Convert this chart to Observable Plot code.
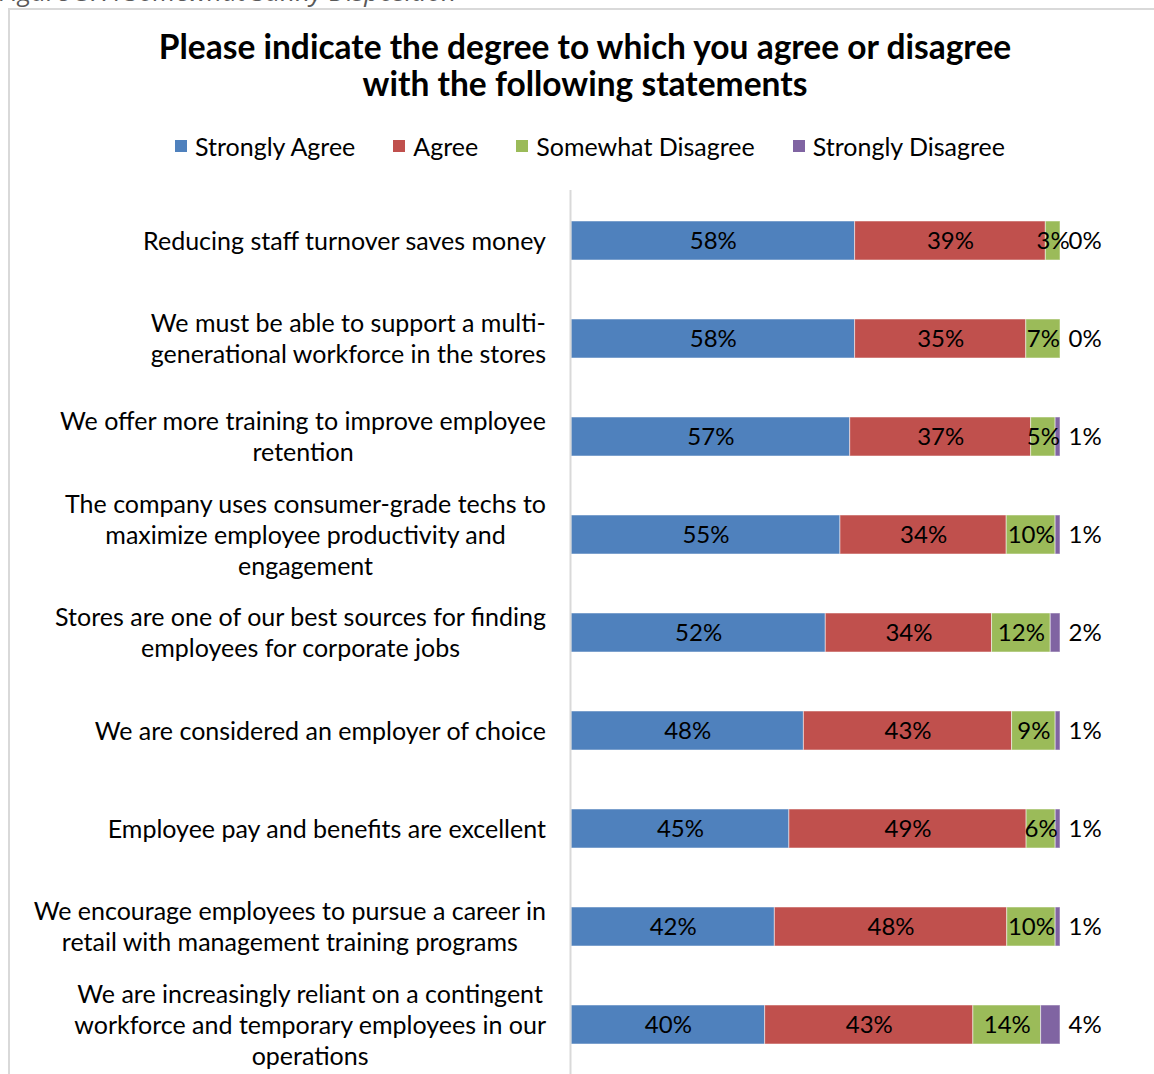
<!DOCTYPE html>
<html><head><meta charset="utf-8">
<script src="https://cdn.jsdelivr.net/npm/d3@7"></script>
<script src="https://cdn.jsdelivr.net/npm/@observablehq/plot@0.6"></script>
<style>
html,body{margin:0;padding:0;background:#fff;}
body{width:1154px;height:1074px;overflow:hidden;position:relative;font-family:Lato,"Open Sans",sans-serif;color:#000;}
#caption{position:absolute;left:-1px;top:-27px;font-family:"Open Sans",sans-serif;font-style:italic;font-size:26px;color:#595959;white-space:nowrap;}
#frame{position:absolute;left:8px;top:8px;width:1300px;height:1300px;border:2px solid #d9d9d9;box-sizing:border-box;}
#title{position:absolute;top:28px;left:0;width:1170px;text-align:center;font-weight:bold;font-size:33.5px;line-height:37px;}
#legend{position:absolute;top:130px;left:0;width:1180px;display:flex;justify-content:center;gap:38px;font-size:25px;line-height:32px;}
#legend .item{display:flex;align-items:center;gap:8px;}
#legend .sw{width:12px;height:12px;display:inline-block;}
#chart{position:absolute;top:190px;left:0;}
</style></head>
<body>
<div id="caption">Figure 3: A Somewhat Sunny Disposition</div>
<div id="frame"></div>
<div id="title">Please indicate the degree to which you agree or disagree<br>with the following statements</div>
<div id="legend"></div>
<div id="chart"></div>
<script>
const statements = [
  "Reducing staff turnover saves money",
  "We must be able to support a multi-\ngenerational workforce in the stores",
  "We offer more training to improve employee\nretention",
  "The company uses consumer-grade techs to\nmaximize employee productivity and\nengagement",
  "Stores are one of our best sources for finding\nemployees for corporate jobs",
  "We are considered an employer of choice",
  "Employee pay and benefits are excellent",
  "We encourage employees to pursue a career in\nretail with management training programs",
  "We are increasingly reliant on a contingent\nworkforce and temporary employees in our\noperations"
];
const seriesNames = ["Strongly Agree", "Agree", "Somewhat Disagree", "Strongly Disagree"];
const seriesColors = ["#4F81BD", "#C0504D", "#9BBB59", "#8064A2"];
const stronglyAgree    = [58, 58, 57, 55, 52, 48, 45, 42, 40];
const agree            = [39, 35, 37, 34, 34, 43, 49, 48, 43];
const somewhatDisagree = [3, 7, 5, 10, 12, 9, 6, 10, 14];
const stronglyDisagree = [0, 0, 1, 1, 2, 1, 1, 1, 4];

const seriesValues = [stronglyAgree, agree, somewhatDisagree, stronglyDisagree];
const data = [];
statements.forEach((s, i) => {
  seriesNames.forEach((name, j) => data.push({statement: s, series: name, value: seriesValues[j][i]}));
});
const sdData = statements.map((s, i) => ({statement: s, value: stronglyDisagree[i]}));

// legend
const legend = document.getElementById("legend");
seriesNames.forEach((n, i) => {
  const it = document.createElement("div");
  it.className = "item";
  it.innerHTML = `<span class="sw" style="background:${seriesColors[i]}"></span><span>${n}</span>`;
  legend.appendChild(it);
});

const stackOpts = {x: "value", y: "statement", z: "series", order: seriesNames, offset: "normalize"};
const chart = Plot.plot({
  width: 1154,
  height: 886,
  marginLeft: 571,
  marginRight: 94,
  marginTop: 0,
  marginBottom: 0,
  style: {fontFamily: "Lato, 'Open Sans', sans-serif", background: "transparent"},
  x: {axis: null},
  y: {domain: statements, axis: null, paddingInner: 0.6, paddingOuter: 0.309},
  color: {domain: seriesNames, range: seriesColors},
  marks: [
    Plot.barX(data, Plot.stackX({...stackOpts, fill: "series", stroke: "#ffffff", strokeOpacity: 0.5, strokeWidth: 1})),
    Plot.text(data, Plot.stackX({...stackOpts,
      text: d => d.series === "Strongly Disagree" ? null : d.value + "%",
      fill: "#000", fontSize: 24})),
    Plot.text(sdData, {x: () => 1, y: "statement", text: d => d.value + "%", textAnchor: "start", dx: 8, fill: "#000", fontSize: 24}),
    Plot.ruleX([0], {stroke: "#d9d9d9", strokeWidth: 2, dx: -1}),
    Plot.text(statements, {y: d => d, text: d => d, frameAnchor: "left", textAnchor: "middle", fill: "#000", fontSize: 25, lineHeight: 1.24, dy: -1})
  ]
});
document.getElementById("chart").appendChild(chart);

// align each wrapped (centered) label block so its right edge sits just left of the axis
function alignLabels() {
  const groups = chart.querySelectorAll(":scope > g");
  const labelGroup = groups[groups.length - 1];
  const svgRect = chart.getBoundingClientRect();
  labelGroup.querySelectorAll("text").forEach(t => {
    if (!t.dataset.base) t.dataset.base = t.getAttribute("transform") || "";
    t.setAttribute("transform", t.dataset.base);
    const r = t.getBoundingClientRect();
    const shift = 546 - (r.right - svgRect.left);
    t.setAttribute("transform", `translate(${shift},0) ${t.dataset.base}`);
  });
}
alignLabels();
if (document.fonts && document.fonts.ready) document.fonts.ready.then(alignLabels);
</script>
</body></html>
